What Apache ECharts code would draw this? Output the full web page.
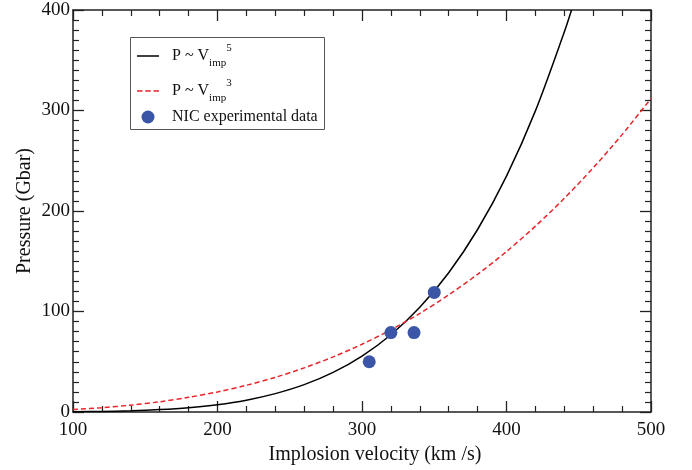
<!DOCTYPE html>
<html>
<head>
<meta charset="utf-8">
<script src="https://cdn.jsdelivr.net/npm/echarts@6/dist/echarts.min.js"></script>
<style>
html,body{margin:0;padding:0;background:#fff;}
#chart{width:692px;height:470px;}
</style>
</head>
<body>
<div id="chart"></div>
<script>
const velP5 = [100,120,140,160,180,200,220,240,260,280,300,320,340,360,380,400,420,440,445];
const pressureP5 = [0.2,0.6,1.2,2.4,4.3,7.3,11.8,18.3,27.2,39.4,55.7,76.9,104.2,138.6,181.6,234.7,299.6,378.1,400];
const velP3 = [100,120,140,160,180,200,220,240,260,280,300,320,340,360,380,400,420,440,460,480,500];
const pressureP3 = [2.5,4.3,6.8,10.2,14.6,20.0,26.6,34.5,43.9,54.8,67.4,81.8,98.1,116.5,137.0,159.7,184.9,212.6,243.0,276.0,312];
// NIC experimental data
const nicVel = [305,320,336,350];
const nicPressure = [50,79,79,119];
// Axis ticks
const xTicks = [100,200,300,400,500];
const yTicks = [0,100,200,300,400];

const FONT = '"Liberation Serif","Times New Roman",serif';
const AX = '#222';

const zip = (a,b) => a.map((v,i)=>[v,b[i]]);

const chart = echarts.init(document.getElementById('chart'), null, {renderer:'canvas'});

const tickCommon = {
  axisTick: {show:true, inside:true, length:11, lineStyle:{color:AX, width:1.3}},
  axisLine: {show:true, onZero:false, lineStyle:{color:AX, width:1.5}},
  splitLine: {show:false},
  minorSplitLine: {show:false}
};

const mkRich = (padLeft) => ({
  m: {fontFamily:FONT, fontSize:16, color:'#111', lineHeight:26, padding:[0,0,0,padLeft]},
  sub: {fontFamily:FONT, fontSize:11, color:'#111', verticalAlign:'bottom'},
  sup: {fontFamily:FONT, fontSize:11, color:'#111', verticalAlign:'top'}
});

const SOLID_ICON = 'path://M0,0h22v1.5h-22z';
const DASH_ICON = 'path://M0,0h5.5v1.5h-5.5z M8.25,0h5.5v1.5h-5.5z M16.5,0h5.5v1.5h-5.5z';

const option = {
  backgroundColor:'#fff',
  animation:false,
  grid:{left:73, right:41, top:10, bottom:57.5, containLabel:false},
  xAxis:[
    Object.assign({
      type:'value', min:xTicks[0], max:xTicks[xTicks.length-1], interval:100,
      position:'bottom',
      name:'Implosion velocity (km /s)', nameLocation:'middle', nameGap:33,
      nameTextStyle:{fontFamily:FONT, fontSize:20, color:'#111', padding:[0,0,0,26]},
      axisLabel:{fontFamily:FONT, fontSize:19, color:'#111', margin:9},
      minorTick:{show:true, splitNumber:5, length:6, lineStyle:{color:AX, width:1.2}}
    }, tickCommon),
    Object.assign({
      type:'value', min:xTicks[0], max:xTicks[xTicks.length-1], interval:100,
      position:'top',
      axisLabel:{show:false},
      minorTick:{show:true, splitNumber:5, length:6, lineStyle:{color:AX, width:1.2}}
    }, tickCommon)
  ],
  yAxis:[
    Object.assign({
      type:'value', min:yTicks[0], max:yTicks[yTicks.length-1], interval:100,
      position:'left',
      name:'Pressure (Gbar)', nameLocation:'middle', nameGap:38, nameRotate:90,
      nameMoveOverlap:false,
      nameTextStyle:{fontFamily:FONT, fontSize:20, color:'#111'},
      axisLabel:{fontFamily:FONT, fontSize:19, color:'#111', margin:3},
      minorTick:{show:true, splitNumber:10, length:6, lineStyle:{color:AX, width:1.2}}
    }, tickCommon),
    Object.assign({
      type:'value', min:yTicks[0], max:yTicks[yTicks.length-1], interval:100,
      position:'right',
      axisLabel:{show:false},
      minorTick:{show:true, splitNumber:10, length:6, lineStyle:{color:AX, width:1.2}}
    }, tickCommon)
  ],
  graphic:[{
    type:'rect', left:130, top:37, z:0,
    shape:{width:194, height:92},
    style:{fill:'#fff', stroke:'#555', lineWidth:1}
  }],
  legend:[
    {data:[{name:'P5', icon:SOLID_ICON, itemStyle:{color:'#000'}}], orient:'vertical', left:137, top:43, padding:0,
     itemWidth:22, itemHeight:1.5, z:10,
     formatter:()=>'{m|P ~ V}{sub|imp}{sup|5}', textStyle:{rich:mkRich(8)}},
    {data:[{name:'P3', icon:DASH_ICON, itemStyle:{color:'#e8262a'}}], orient:'vertical', left:137, top:78, padding:0,
     itemWidth:22, itemHeight:1.5, z:10,
     formatter:()=>'{m|P ~ V}{sub|imp}{sup|3}', textStyle:{rich:mkRich(8)}},
    {data:[{name:'NIC', icon:'circle'}], orient:'vertical', left:141.5, top:109, padding:0,
     itemWidth:13, itemHeight:13, z:10,
     formatter:()=>'{m|NIC experimental data}', textStyle:{rich:mkRich(12.5)}}
  ],
  series:[
    {
      name:'P5', type:'line', xAxisIndex:0, yAxisIndex:0,
      data:zip(velP5, pressureP5), smooth:0.3, symbol:'none', clip:true,
      lineStyle:{color:'#000', width:1.5}, itemStyle:{color:'#000'}, z:3
    },
    {
      name:'P3', type:'line', xAxisIndex:0, yAxisIndex:0,
      data:zip(velP3, pressureP3), smooth:0.3, symbol:'none', clip:true,
      lineStyle:{color:'#e8262a', width:1.5, type:[5,3]}, itemStyle:{color:'#e8262a'}, z:3
    },
    {
      name:'NIC', type:'scatter', xAxisIndex:0, yAxisIndex:0,
      data:zip(nicVel, nicPressure), symbol:'circle', symbolSize:13,
      itemStyle:{color:'#3b56a6', opacity:1}, z:4
    }
  ]
};
chart.setOption(option);
</script>
</body>
</html>
